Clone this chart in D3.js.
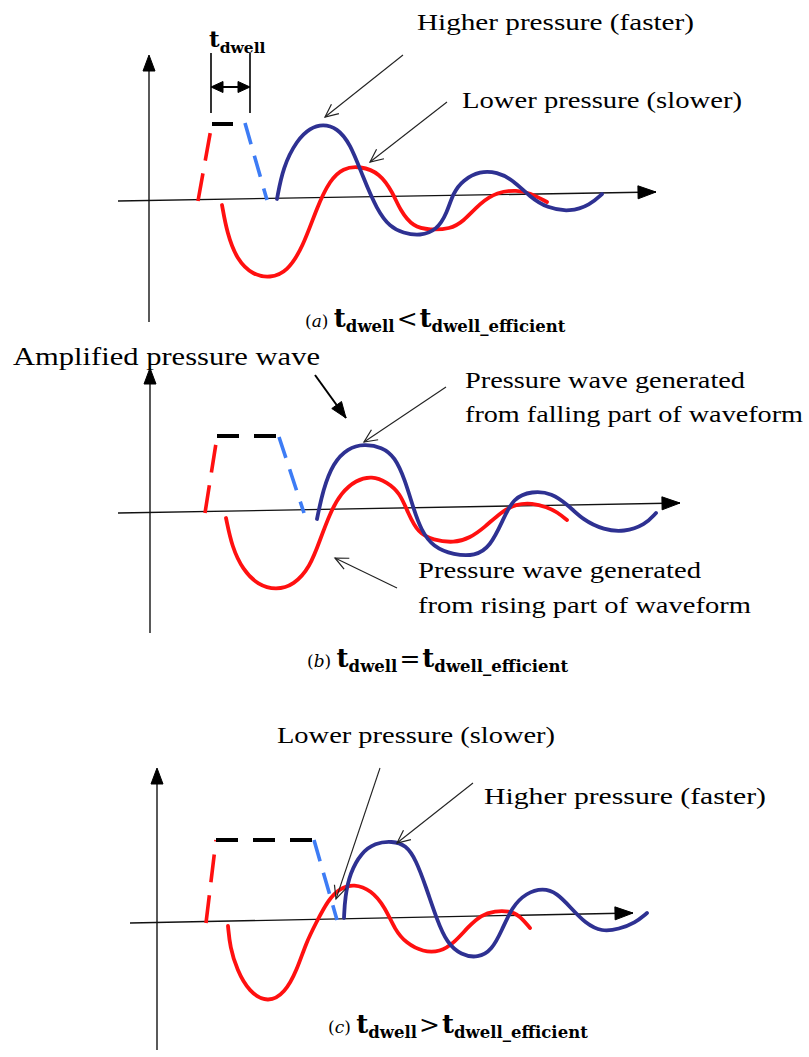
<!DOCTYPE html>
<html>
<head>
<meta charset="utf-8">
<script src="https://cdn.jsdelivr.net/npm/d3@7"></script>
<style>
  body { margin: 0; background: #fff; }
  svg { display: block; }
  text { font-family: "Liberation Serif", "Times New Roman", "DejaVu Serif", serif; fill: #000; }
</style>
</head>
<body>
<div class="chart"></div>
<script>
/* Three sketches of the dwell-time pressure waves, (a) (b) (c). */

// values are [time, pressure] measured from each panel's axis crossing

// ---- (a) t_dwell < t_dwell_efficient ----
var riseA = [[49, 0], [63, 78]];
var dwellA = [[63, 77], [84, 77]];
var fallA = [[96, 78], [118, 1]];
var redA = [[73, -4], [78, -32], [88, -59], [104, -74], [121, -77], [138, -71], [154, -46], [168, -6],
  [181, 21], [194, 33], [211, 35], [231, 28], [244, 8], [251, -9], [264, -26], [281, -29], [301, -28],
  [314, -21], [331, -2], [348, 9], [368, 11], [381, 8], [398, -1]];
var blueA = [[128, 2], [134, 34], [148, 61], [161, 73], [174, 77], [188, 73], [201, 58], [214, 24],
  [228, -9], [241, -26], [254, -32], [271, -35], [288, -29], [298, -12], [304, 8], [314, 21], [331, 30],
  [348, 29], [364, 21], [381, 4], [398, -7], [421, -11], [441, -4], [453, 7]];
var xAxisA = [[-31, 0], [507, 9]];
var yAxisA = [-121, 146];

// ---- (b) t_dwell = t_dwell_efficient ----
var riseB = [[55, 0], [67, 76]];
var dwellB = [[67, 77], [129, 77]];
var fallB = [[129, 76], [154, 0]];
var redB = [[76, -5], [82, -34], [93, -57], [108, -72], [126, -77], [144, -72], [160, -54], [170, -27],
  [180, 0], [191, 20], [206, 33], [222, 37], [237, 31], [250, 20], [258, 0], [268, -20], [283, -27],
  [304, -30], [320, -25], [335, -14], [351, 1], [366, 9], [382, 10], [397, 6], [407, 1], [417, -7]];
var blueB = [[167, -6], [173, 23], [183, 50], [198, 65], [214, 69], [232, 66], [245, 56], [255, 33],
  [263, 6], [271, -17], [283, -34], [304, -42], [325, -43], [340, -34], [353, -7], [363, 15], [382, 22],
  [402, 20], [418, 8], [433, -7], [454, -17], [474, -19], [495, -12], [506, 0]];
var xAxisB = [[-32, 0], [530, 10]];
var yAxisB = [-120, 145];

// ---- (c) t_dwell > t_dwell_efficient ----
var riseC = [[49, -1], [59, 82]];
var dwellC = [[59, 82], [157, 82]];
var fallC = [[157, 82], [180, 2]];
var redC = [[71, -4], [73, -25], [80, -48], [92, -70], [111, -81], [128, -71], [140, -48], [149, -21],
  [159, -1], [171, 22], [183, 34], [197, 38], [214, 32], [228, 15], [238, -8], [249, -21], [266, -30],
  [283, -30], [297, -21], [311, -5], [324, 7], [338, 11], [352, 11], [362, 7], [373, -6]];
var blueC = [[187, 4], [188, 25], [193, 49], [204, 69], [218, 79], [235, 81], [249, 77], [259, 62],
  [269, 35], [280, 2], [290, -21], [304, -33], [321, -36], [335, -28], [345, -8], [355, 15], [369, 29],
  [386, 34], [400, 29], [414, 14], [428, -1], [445, -10], [462, -7], [478, -1], [490, 9]];
var xAxisC = [[-27, -1], [476, 9]];
var yAxisC = [-128, 154];

// annotation pointers: from, to, head style
var arrowsA = [
  {from: [254, 146], to: [176, 84], head: "open"},
  {from: [298, 99], to: [221, 39], head: "open"}
];
var arrowsB = [
  {from: [165, 138], to: [196, 95], head: "solid"},
  {from: [296, 126], to: [214, 71], head: "open"},
  {from: [247, -75], to: [185, -45], head: "open"}
];
var arrowsC = [
  {from: [223, 154], to: [179, 23], head: "open"},
  {from: [316, 139], to: [240, 79], head: "open"}
];

// labels: text, position, fitted width, font size
var labelsA = [
  {text: "Higher pressure (faster)", at: [268, 171], w: 277, size: 24},
  {text: "Lower pressure (slower)", at: [313, 93], w: 280, size: 24}
];
var labelsB = [
  {text: "Amplified pressure wave", at: [-137, 148], w: 307, size: 26},
  {text: "Pressure wave generated", at: [315, 125], w: 280, size: 23},
  {text: "from falling part of waveform", at: [315, 91], w: 338, size: 23},
  {text: "Pressure wave generated", at: [268, -65], w: 283, size: 23},
  {text: "from rising part of waveform", at: [268, -100], w: 333, size: 23}
];
var labelsC = [
  {text: "Lower pressure (slower)", at: [120, 179], w: 278, size: 24},
  {text: "Higher pressure (faster)", at: [327, 118], w: 282, size: 24}
];

// t_dwell span marker in (a)
var spanA = [62, 101];
var spanRangeA = [88, 148];
var spanArrowA = 114;

var captions = [
  {letter: "a", op: "<", at: [156, -126]},
  {letter: "b", op: "=", at: [157, -154]},
  {letter: "c", op: ">", at: [171, -111]}
];

var panels = [
  {origin: [149, 201], rise: riseA, dwell: dwellA, fall: fallA, red: redA, blue: blueA,
   xAxis: xAxisA, yAxis: yAxisA, arrows: arrowsA, labels: labelsA, caption: captions[0]},
  {origin: [150, 513], rise: riseB, dwell: dwellB, fall: fallB, red: redB, blue: blueB,
   xAxis: xAxisB, yAxis: yAxisB, arrows: arrowsB, labels: labelsB, caption: captions[1]},
  {origin: [157, 922], rise: riseC, dwell: dwellC, fall: fallC, red: redC, blue: blueC,
   xAxis: xAxisC, yAxis: yAxisC, arrows: arrowsC, labels: labelsC, caption: captions[2]}
];

var width = 809, height = 1057;

var svg = d3.select(".chart")
    .append("svg")
    .attr("width", width)
    .attr("height", height);

// arrow head at tip, pointing away from `from`
function head(g, x, y, from, tip, len, half, solid, color, sw) {
  var x0 = x(from[0]), y0 = y(from[1]), x1 = x(tip[0]), y1 = y(tip[1]);
  var dx = x1 - x0, dy = y1 - y0, d = Math.sqrt(dx * dx + dy * dy);
  var ux = dx / d, uy = dy / d;
  var bx = x1 - ux * len, by = y1 - uy * len;
  var p = d3.path();
  p.moveTo(bx - uy * half, by + ux * half);
  p.lineTo(x1, y1);
  p.lineTo(bx + uy * half, by - ux * half);
  if (solid) p.closePath();
  g.append("path")
    .attr("d", p.toString())
    .style("fill", solid ? color : "none")
    .style("stroke", color)
    .style("stroke-width", sw)
    .style("stroke-linejoin", "miter");
}

panels.forEach(function (pn, i) {

  var x = d3.scaleLinear().domain([0, 100]).range([pn.origin[0], pn.origin[0] + 100]);
  var y = d3.scaleLinear().domain([0, 100]).range([pn.origin[1], pn.origin[1] - 100]);

  var g = svg.append("g").attr("class", "panel-" + pn.caption.letter);

  var line = d3.line()
      .x(function (d) { return x(d[0]); })
      .y(function (d) { return y(d[1]); });

  var smooth = d3.line()
      .x(function (d) { return x(d[0]); })
      .y(function (d) { return y(d[1]); })
      .curve(d3.curveBasis);

  // axes
  g.append("path")
    .attr("d", line([[0, pn.yAxis[0]], [0, pn.yAxis[1] - 14]]))
    .style("stroke", "#000").style("stroke-width", 1.3).style("fill", "none");
  head(g, x, y, [0, pn.yAxis[0]], [0, pn.yAxis[1]], 16, 6, true, "#000", 1);

  var xa = pn.xAxis;
  g.append("path")
    .attr("d", line(xa))
    .style("stroke", "#111").style("stroke-width", 1.3).style("fill", "none");
  head(g, x, y, xa[0], xa[1], 18, 6.5, true, "#000", 1);

  // input waveform (dashed)
  g.append("path").attr("d", line(pn.rise))
    .style("stroke", "#ff1010").style("stroke-width", 3.6).style("fill", "none")
    .style("stroke-dasharray", "28,13");
  g.append("path").attr("d", line(pn.dwell))
    .style("stroke", "#000").style("stroke-width", 4).style("fill", "none")
    .style("stroke-dasharray", "22,15");
  g.append("path").attr("d", line(pn.fall))
    .style("stroke", "#3d7cf5").style("stroke-width", 3.6).style("fill", "none")
    .style("stroke-dasharray", "22,12");

  // pressure waves
  g.append("path").attr("d", smooth(pn.red))
    .style("stroke", "#ff1010").style("stroke-width", 3.8).style("fill", "none")
    .style("stroke-linecap", "round");
  g.append("path").attr("d", smooth(pn.blue))
    .style("stroke", "#2e3192").style("stroke-width", 3.8).style("fill", "none")
    .style("stroke-linecap", "round");

  // pointers
  pn.arrows.forEach(function (a) {
    var solid = a.head === "solid";
    g.append("path").attr("d", line([a.from, a.to]))
      .style("stroke", solid ? "#000" : "#222")
      .style("stroke-width", solid ? 2 : 1.1)
      .style("fill", "none");
    if (solid) head(g, x, y, a.from, a.to, 16, 6, true, "#000", 1);
    else head(g, x, y, a.from, a.to, 13, 6, false, "#222", 1.2);
  });

  // labels
  pn.labels.forEach(function (l) {
    g.append("text")
      .attr("x", x(l.at[0]))
      .attr("y", y(l.at[1]))
      .attr("textLength", l.w)
      .attr("lengthAdjust", "spacingAndGlyphs")
      .style("font-size", l.size + "px")
      .text(l.text);
  });

  // caption
  var c = pn.caption;
  var cap = g.append("text")
    .attr("x", x(c.at[0]))
    .attr("y", y(c.at[1]))
    .style("font-family", "'DejaVu Serif', serif")
    .style("font-size", "17px");
  cap.append("tspan").text("(");
  cap.append("tspan").style("font-style", "italic").text(c.letter);
  cap.append("tspan").text(") ");
  cap.append("tspan").style("font-size", "26px").style("font-weight", "bold").text("t");
  cap.append("tspan").attr("dy", 5).style("font-size", "16.5px").style("font-weight", "bold").text("dwell");
  cap.append("tspan").attr("dy", -5).attr("dx", 2).style("font-size", "25px").text(c.op);
  cap.append("tspan").attr("dx", 2).style("font-size", "26px").style("font-weight", "bold").text("t");
  cap.append("tspan").attr("dy", 5).style("font-size", "16.5px").style("font-weight", "bold").text("dwell_efficient");

  // t_dwell span marker, panel (a) only
  if (i === 0) {
    spanA.forEach(function (t) {
      g.append("path").attr("d", line([[t, spanRangeA[0]], [t, spanRangeA[1]]]))
        .style("stroke", "#000").style("stroke-width", 1.6).style("fill", "none");
    });
    g.append("path").attr("d", line([[spanA[0] + 4, spanArrowA], [spanA[1] - 4, spanArrowA]]))
      .style("stroke", "#000").style("stroke-width", 2).style("fill", "none");
    head(g, x, y, [spanA[1], spanArrowA], [spanA[0], spanArrowA], 12, 5.5, true, "#000", 1);
    head(g, x, y, [spanA[0], spanArrowA], [spanA[1], spanArrowA], 12, 5.5, true, "#000", 1);

    var lab = g.append("text")
      .attr("x", x(spanA[0] - 2))
      .attr("y", y(154))
      .style("font-family", "'DejaVu Serif', serif")
      .style("font-weight", "bold")
      .style("font-size", "23px");
    lab.append("tspan").text("t");
    lab.append("tspan").attr("dy", 6).style("font-size", "15.5px").text("dwell");
  }
});
</script>
</body>
</html>
